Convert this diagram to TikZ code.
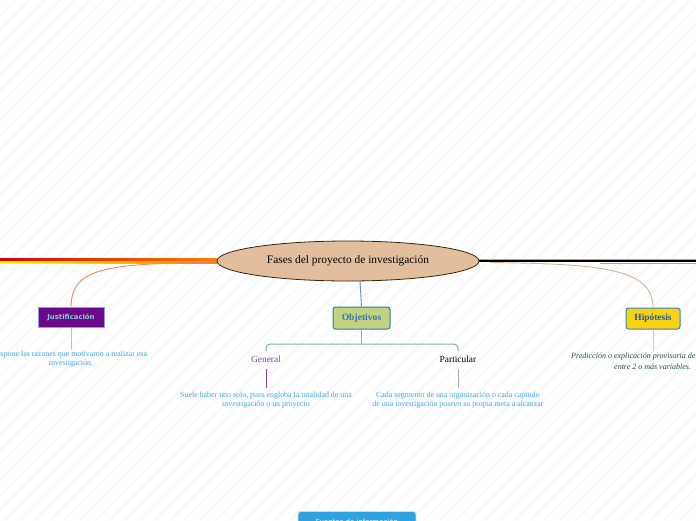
\documentclass[tikz,border=0pt]{standalone}
\usepackage{fontspec}
\setmainfont{Liberation Serif}
\setsansfont{DejaVu Sans}
\usetikzlibrary{shapes.geometric}
\definecolor{tan}{HTML}{E2BE9E}
\definecolor{tanline}{HTML}{D8B48C}
\definecolor{jpurple}{HTML}{6A0A8A}
\definecolor{jtext}{HTML}{7FD0D0}
\definecolor{oliv}{HTML}{C2D282}
\definecolor{oblue}{HTML}{2A7AB0}
\definecolor{hyel}{HTML}{F8D214}
\definecolor{hblue}{HTML}{3A80C0}
\definecolor{htext}{HTML}{1F5A8A}
\definecolor{lblue}{HTML}{3CA6E6}
\definecolor{sage}{HTML}{80B8A0}
\definecolor{gpurple}{HTML}{7A4A9A}
\definecolor{lav}{HTML}{B0A8D0}
\definecolor{dgreen}{HTML}{1F4F3F}
\definecolor{salmon}{HTML}{F08A5A}
\definecolor{fblue}{HTML}{30A2E2}
\tikzset{
  desc/.style={font=\fontsize{7.9}{9.2}\selectfont, text=lblue, align=center, inner sep=0pt},
}
\begin{document}
\begin{tikzpicture}[x=1pt,y=-1pt]
\useasboundingbox (0,0) rectangle (696,520);
\clip (0,0) rectangle (696,520);
% background hatching
\foreach \i in {0,15,...,1230}{
  \draw[line width=1.6pt, black!3] (\i-520,520) -- (\i,0);
}
% main lines
\shade[left color=red!85!black, right color=orange] (0,258.8) rectangle (217,261);
\shade[left color=yellow, right color=orange] (0,261) rectangle (217,263.2);
\draw[line width=1pt, orange!80!yellow] (600,263.3) -- (696,263.3);
\draw[line width=2.6pt, black] (470,261) -- (696,261);
\draw[line width=0.6pt, black!35] (479,259.2) -- (696,259.2);
% central node
\node[ellipse, draw=black!70!brown, line width=0.8pt, fill=tan, minimum width=262pt, minimum height=40pt, inner sep=0pt,
  font=\fontsize{11.4}{13}\selectfont] (c) at (348,261) {Fases del proyecto de investigación};
% Justificación
\node[draw=black!30!blue!40, line width=1pt, fill=jpurple, minimum width=66pt, minimum height=20pt, inner sep=0pt,
  font=\sffamily\bfseries\fontsize{6.9}{8}\selectfont, text=jtext] (j) at (71,317) {Justificación};
\draw[salmon, line width=0.9pt] (c.west) ++(-2,1.5) coordinate (cw) .. controls (100,263) and (72,270) .. (j.north);
\coordinate (jd) at (71,349);
\draw[salmon!70, line width=0.9pt] (j.south) -- (jd);
\node[desc, anchor=north] (jt) at (71,351) {Expone las razones que motivaron a realizar esa\\investigación.};
% Objetivos
\node[draw=oblue, line width=1pt, rounded corners=2.5pt, fill=oliv, minimum width=57pt, minimum height=22pt, inner sep=0pt,
  font=\bfseries\fontsize{9.6}{11}\selectfont, text=oblue] (o) at (361.5,318) {Objetivos};
\draw[oblue!80, line width=0.9pt] (360,281) -- (o.north);
\coordinate (ob) at (361.5,344);
\draw[sage, line width=1pt] (o.south) -- (ob);
\draw[sage, line width=1pt, rounded corners=4pt] (266,351) -- (266,344) -- (458,344) -- (458,351);
\node[font=\fontsize{9.4}{11}\selectfont, text=gpurple] (g) at (266,359) {General};
\node[font=\fontsize{9.4}{11}\selectfont, text=black] (p) at (458,359) {Particular};
\coordinate (gd) at (266,388);
\coordinate (pd) at (458,388);
\draw[gpurple, line width=0.8pt] (266,369) -- (gd);
\draw[lav, line width=0.8pt] (458,369) -- (pd);
\node[desc, anchor=north] (gt) at (266,392) {Suele haber uno solo, pues engloba la totalidad de una\\investigación o un proyecto};
\node[desc, anchor=north] (pt) at (458,392) {Cada segmento de una organización o cada capitulo\\de una investigación poseen su propia meta a alcanzar};
% Hipótesis
\node[draw=hblue, line width=1pt, rounded corners=2.5pt, fill=hyel, minimum width=54pt, minimum height=21pt, inner sep=0pt,
  font=\bfseries\fontsize{9.4}{11}\selectfont, text=htext] (h) at (653,318.5) {Hipótesis};
\draw[tanline, line width=0.9pt] (490,262.5) .. controls (600,264) and (653,268) .. (h.north);
\coordinate (hd) at (653,350);
\draw[tanline!70, line width=0.9pt] (h.south) -- (hd);
\node[font=\itshape\fontsize{8}{9.2}\selectfont, text=dgreen, anchor=west, inner sep=0pt] (ht1) at (571,357) {Predicción o explicación provisoria de};
\node[font=\itshape\fontsize{8}{9.2}\selectfont, text=dgreen, anchor=west, inner sep=0pt] (ht2) at (614,367) {entre 2 o más variables.};
% bottom box
\node[draw=black!15, line width=0.8pt, rounded corners=3pt, fill=fblue, minimum width=118pt, minimum height=20pt, inner sep=0pt,
  font=\sffamily\fontsize{7}{8}\selectfont, text=white, anchor=north] (f) at (357,511) {Fuentes de información};
\end{tikzpicture}
\end{document}
